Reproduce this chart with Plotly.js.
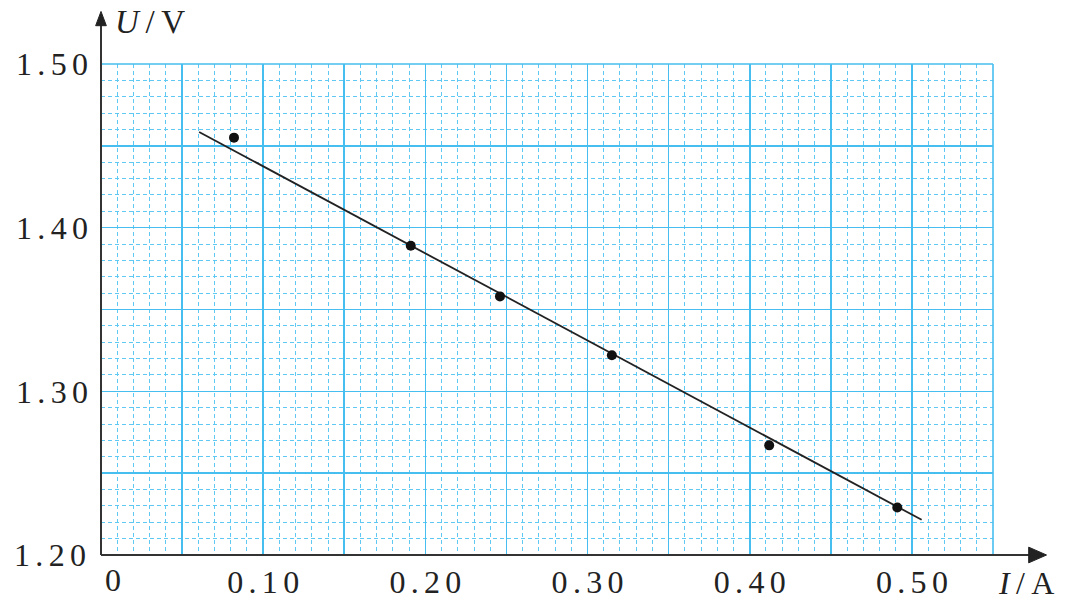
<!DOCTYPE html>
<html><head><meta charset="utf-8">
<script src="https://cdn.plot.ly/plotly-3.0.1.min.js"></script>
<style>body{margin:0;background:#fff}#c{width:1080px;height:600px}</style>
</head><body><div id="c"></div>
<script>
const currentI = [0.082, 0.191, 0.246, 0.315, 0.412, 0.491];
const voltageU = [1.455, 1.389, 1.358, 1.322, 1.267, 1.229];
const fitI = [0.0605, 0.506];
const fitU = [1.4585, 1.2215];
const xTickVals = [0.05, 0.10, 0.15, 0.20, 0.25, 0.30, 0.35, 0.40, 0.45, 0.50];
const xTickText = ['', '0.10', '', '0.20', '', '0.30', '', '0.40', '', '0.50'];
const yTickVals = [1.25, 1.30, 1.35, 1.40, 1.45, 1.50];
const yTickText = ['', '1.30', '', '1.40', '', '1.50'];
const yBottomLabel = '1.20';
const xOriginLabel = '0';

const sp = s => s.split('').join('\u2006');
const gridBlue = 'rgb(70,190,240)';
const minorBlue = 'rgb(95,200,243)';
const serif = 'Liberation Serif, Times New Roman, serif';
const txt = '#222';

const traces = [
  {x: fitI, y: fitU, xaxis: 'x', yaxis: 'y', mode: 'lines', line: {color: '#222', width: 1.8}, hoverinfo: 'skip', cliponaxis: false},
  {x: currentI, y: voltageU, xaxis: 'x2', yaxis: 'y2', mode: 'markers', marker: {color: '#111', size: 10}, cliponaxis: false}
];

const layout = {
  width: 1080, height: 600,
  margin: {l: 101, r: 87, t: 64, b: 45},
  paper_bgcolor: '#fff', plot_bgcolor: '#fff',
  showlegend: false,
  xaxis: {
    range: [0, 0.55], tick0: 0, dtick: 0.01,
    showgrid: true, gridcolor: minorBlue, griddash: '4px,3px', gridwidth: 1,
    showticklabels: false, zeroline: false, showline: false, ticks: '', fixedrange: true
  },
  yaxis: {
    range: [1.20, 1.50], tick0: 1.2, dtick: 0.01,
    showgrid: true, gridcolor: minorBlue, griddash: '4px,3px', gridwidth: 1,
    showticklabels: false, zeroline: false, showline: false, ticks: '', fixedrange: true
  },
  xaxis2: {
    overlaying: 'x', anchor: 'y2', side: 'bottom',
    range: [0, 0.55], tickmode: 'array', tickvals: xTickVals, ticktext: xTickText.map(sp),
    showgrid: true, gridcolor: gridBlue, gridwidth: 1.6,
    zeroline: false, showline: false, ticks: '',
    tickfont: {family: serif, size: 32, color: txt}, ticklabelstandoff: 5, fixedrange: true
  },
  yaxis2: {
    overlaying: 'y', anchor: 'x2', side: 'left',
    range: [1.20, 1.50], tickmode: 'array', tickvals: yTickVals, ticktext: yTickText.map(sp),
    showgrid: true, gridcolor: gridBlue, gridwidth: 1.6,
    zeroline: false, showline: false, ticks: '',
    tickfont: {family: serif, size: 32, color: txt}, ticklabelstandoff: 12, fixedrange: true
  },
  shapes: [
    {type: 'line', xref: 'paper', yref: 'paper', x0: 1, x1: 1, y0: 0, y1: 1, line: {color: gridBlue, width: 1.6}},
    {type: 'line', xref: 'paper', yref: 'paper', x0: 0, x1: 1, y0: 1, y1: 1, line: {color: gridBlue, width: 1.6}},
    {type: 'line', xref: 'paper', yref: 'paper', x0: 0, x1: 1.045, y0: 0, y1: 0, line: {color: '#333', width: 2}},
    {type: 'line', xref: 'paper', yref: 'paper', x0: 0, x1: 0, y0: 0, y1: 1.09, line: {color: '#333', width: 2}},
    {type: 'path', xref: 'paper', yref: 'paper', path: 'M 1.040 0.016 L 1.060 0 L 1.040 -0.016 Z', fillcolor: '#222', line: {color: '#222', width: 1}},
    {type: 'path', xref: 'paper', yref: 'paper', path: 'M -0.006 1.078 L 0 1.107 L 0.006 1.078 Z', fillcolor: '#222', line: {color: '#222', width: 1}}
  ],
  annotations: [
    {xref: 'paper', yref: 'paper', x: 0.013, y: -0.051, text: xOriginLabel, showarrow: false, xanchor: 'center', yanchor: 'middle', font: {family: serif, size: 32, color: txt}},
    {xref: 'paper', yref: 'paper', x: -0.0146, y: 0, text: sp(yBottomLabel), showarrow: false, xanchor: 'right', yanchor: 'middle', font: {family: serif, size: 32, color: txt}},
    {xref: 'paper', yref: 'paper', x: 0.014, y: 1.086, text: '<i>U</i>\u2009/\u2009V', showarrow: false, xanchor: 'left', yanchor: 'middle', font: {family: serif, size: 33, color: txt}},
    {xref: 'paper', yref: 'paper', x: 1.003, y: -0.058, text: '<i>I</i>\u2009/\u2009A', showarrow: false, xanchor: 'left', yanchor: 'middle', font: {family: serif, size: 32, color: txt}}
  ]
};

Plotly.newPlot('c', traces, layout, {displayModeBar: false, staticPlot: true});
</script></body></html>
